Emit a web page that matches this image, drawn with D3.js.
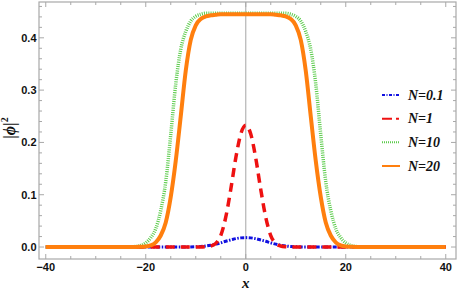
<!DOCTYPE html>
<html><head><meta charset="utf-8">
<script src="https://cdn.jsdelivr.net/npm/d3@7"></script>
<style>html,body{margin:0;padding:0;background:#fff;}svg{display:block;}</style>
</head><body>
<svg id="chart" width="457" height="292"></svg>
<script>
// ---------- data ----------
const seriesNames = ["N=0.1", "N=1", "N=10", "N=20"];
const xTickLabels = [-40, -20, 0, 20, 40];
const yTickLabels = [0.0, 0.1, 0.2, 0.3, 0.4];

const xBlue = [-40, -12, -10, -9, -8, -7, -6, -5, -4, -3, -2, -1, 0, 1, 2, 3, 4, 5, 6, 7, 8, 9, 10, 12, 40];
const yBlue = [0, 0, 0.0005, 0.001, 0.002, 0.0035, 0.0055, 0.008, 0.011, 0.0135, 0.016, 0.0175, 0.018, 0.0175, 0.016, 0.0135, 0.011, 0.008, 0.0055, 0.0035, 0.002, 0.001, 0.0005, 0, 0];

const xRed = [-40, -9, -8, -7, -6, -5, -4, -3, -2, -1, 0, 1, 2, 3, 4, 5, 6, 7, 8, 9, 40];
const yRed = [0, 0, 0.0005, 0.002, 0.007, 0.022, 0.057, 0.11, 0.17, 0.216, 0.233, 0.216, 0.17, 0.11, 0.057, 0.022, 0.007, 0.002, 0.0005, 0, 0];

const xFlat = [-40, -24, -23, -22, -21, -20, -19, -18, -17, -16, -15, -14, -13, -12, -11, -10, -9, -8, -7, -6, -5, -4, 0,
               4, 5, 6, 7, 8, 9, 10, 11, 12, 13, 14, 15, 16, 17, 18, 19, 20, 21, 22, 23, 24, 40];
const yGreen = [0, 0, 0.0005, 0.001, 0.003, 0.008, 0.018, 0.035, 0.07, 0.125, 0.215, 0.312, 0.378, 0.412, 0.432, 0.441, 0.445, 0.447, 0.447, 0.447, 0.447, 0.447, 0.447,
                0.447, 0.447, 0.447, 0.447, 0.447, 0.445, 0.441, 0.432, 0.412, 0.378, 0.312, 0.215, 0.125, 0.07, 0.035, 0.018, 0.008, 0.003, 0.001, 0.0005, 0, 0];
const yOrange = [0, 0, 0, 0, 0.0005, 0.001, 0.003, 0.009, 0.022, 0.047, 0.096, 0.165, 0.25, 0.337, 0.396, 0.424, 0.436, 0.441, 0.443, 0.444, 0.445, 0.445, 0.445,
                 0.445, 0.445, 0.444, 0.443, 0.441, 0.436, 0.424, 0.396, 0.337, 0.25, 0.165, 0.096, 0.047, 0.022, 0.009, 0.003, 0.001, 0.0005, 0, 0, 0, 0];

// ---------- layout ----------
const svg = d3.select("#chart");
const mLeft = 39, mRight = 456, mTop = 2, mBottom = 259;
const x = d3.scaleLinear().domain([-41.35, 42.05]).range([mLeft, mRight]);
const y = d3.scaleLinear().domain([-0.0229, 0.4685]).range([mBottom, mTop]);
const frameColor = "#a8a8a8";

// zero line
svg.append("line").attr("x1", x(0)).attr("x2", x(0)).attr("y1", mTop).attr("y2", mBottom)
  .attr("stroke", "#b4b4b4").attr("stroke-width", 1.2);

// series
const line = d3.line().x(d => x(d[0])).y(d => y(d[1])).curve(d3.curveMonotoneX);
const zip = (xs, ys) => xs.map((v, i) => [v, ys[i]]);
const styles = [
  {data: zip(xBlue, yBlue), color: "#1010e0", width: 3, dash: "4,1.5,1.5,1.5", legDash: "3,1.5,1,1.5", legW: 1.8},
  {data: zip(xRed, yRed), color: "#ee1111", width: 3.5, dash: "9,6", legDash: "10,4,3,20", legW: 2},
  {data: zip(xFlat, yGreen), color: "#5ccc4c", width: 3.5, dash: "1,1.2", legDash: "1,1", legW: 2},
  {data: zip(xFlat, yOrange), color: "#ff7f0e", width: 4, dash: null, legDash: null, legW: 2}
];
const g = svg.append("g");
styles.forEach(s => {
  g.append("path").attr("d", line(s.data)).attr("fill", "none")
    .attr("stroke", s.color).attr("stroke-width", s.width)
    .attr("stroke-dasharray", s.dash).attr("stroke-linejoin", "round");
});

// frame
svg.append("rect").attr("x", mLeft).attr("y", mTop).attr("width", mRight - mLeft).attr("height", mBottom - mTop)
  .attr("fill", "none").attr("stroke", frameColor).attr("stroke-width", 1.2);

// ticks (inward on all sides)
const xMinor = d3.range(-40, 40.1, 5);
xMinor.forEach(v => {
  const major = xTickLabels.includes(v);
  const len = major ? 5 : 3;
  svg.append("line").attr("x1", x(v)).attr("x2", x(v)).attr("y1", mBottom).attr("y2", mBottom - len).attr("stroke", frameColor);
  svg.append("line").attr("x1", x(v)).attr("x2", x(v)).attr("y1", mTop).attr("y2", mTop + len).attr("stroke", frameColor);
});
const yMinor = d3.range(0, 0.461, 0.02);
yMinor.forEach(v => {
  const major = Math.abs(Math.round(v * 10) - v * 10) < 1e-6;
  const len = major ? 5 : 3;
  svg.append("line").attr("y1", y(v)).attr("y2", y(v)).attr("x1", mLeft).attr("x2", mLeft + len).attr("stroke", frameColor);
  svg.append("line").attr("y1", y(v)).attr("y2", y(v)).attr("x1", mRight).attr("x2", mRight - len).attr("stroke", frameColor);
});

// tick labels
const tickFont = "'Liberation Sans', Arial, sans-serif";
xTickLabels.forEach(v => {
  svg.append("text").attr("x", x(v)).attr("y", 271).attr("text-anchor", "middle")
    .attr("font-family", tickFont).attr("font-weight", "bold").attr("font-size", 11)
    .attr("fill", "#111").text(v < 0 ? "\u2212" + Math.abs(v) : String(v));
});
yTickLabels.forEach(v => {
  svg.append("text").attr("x", 36.5).attr("y", y(v)).attr("text-anchor", "end")
    .attr("dominant-baseline", "central")
    .attr("font-family", tickFont).attr("font-weight", "bold").attr("font-size", 11)
    .attr("fill", "#111").text(v.toFixed(1));
});

// axis labels
const serif = "'Liberation Serif', 'Times New Roman', serif";
svg.append("text").attr("x", x(0)).attr("y", 288).attr("text-anchor", "middle")
  .attr("font-family", serif).attr("font-weight", "bold").attr("font-style", "italic")
  .attr("font-size", 15).attr("fill", "#111").text("x");
const yl = svg.append("text").attr("transform", "translate(15,128) rotate(-90)")
  .attr("text-anchor", "middle").attr("font-family", serif).attr("font-weight", "bold")
  .attr("font-size", 16).attr("fill", "#111");
yl.append("tspan").text("|");
yl.append("tspan").attr("font-style", "italic").text("\u03D5");
yl.append("tspan").text("|");
yl.append("tspan").attr("font-size", 10).attr("dy", -7).text("2");

// legend
const legY = [95, 118.7, 142.3, 166];
styles.forEach((s, i) => {
  svg.append("line").attr("x1", 382).attr("x2", 400).attr("y1", legY[i]).attr("y2", legY[i])
    .attr("stroke", s.color).attr("stroke-width", s.legW).attr("stroke-dasharray", s.legDash);
  svg.append("text").attr("x", 408).attr("y", legY[i]).attr("dominant-baseline", "central")
    .attr("font-family", serif).attr("font-weight", "bold").attr("font-style", "italic")
    .attr("font-size", 14).attr("fill", "#111").text(seriesNames[i]);
});
</script>
</body></html>
